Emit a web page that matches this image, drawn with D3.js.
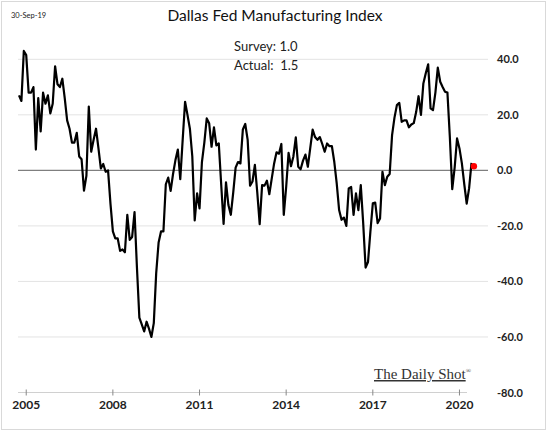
<!DOCTYPE html>
<html><head><meta charset="utf-8">
<script src="https://cdn.jsdelivr.net/npm/d3@7"></script>
<style>body{margin:0;background:#fff} text{white-space:pre}</style></head>
<body><svg id="c" width="547" height="432"></svg>
<script>
const values=[27,25,43,41.5,28,28,30,7.5,26,14,28,24,27,20.5,24,37.5,31,30,33,26,
18,15,10,10,13.5,5,4,-7.3,-2,23,6.7,11,15,8,0.7,2.3,-0.5,0,-12,-22,
-24.5,-24.5,-29,-28.5,-29.5,-16,-25,-24,-15,-35,-53,-55.5,-58,-54.5,-57,-60,-55,-37,-26,-22,-22,-5,
-2.6,-7.4,-1.3,3.7,7.5,-3.2,11,24.7,20,15,5,-18,-8.3,-13.7,3,10,18.7,17,8.5,15.5,9,9.7,
-5,-19.3,-4.3,-12.5,-16,-8,1,3,2.5,14.7,16.7,11,-5.5,-4,2,-8,-19.4,-5.3,-5.5,-3.7,-8.6,-3,2.5,
6.5,6,9.5,-16,-6,6.3,1.5,5,11.9,1.3,0.4,3.5,5.7,1.3,8,14.7,12,11,12,9.5,6.7,
9.7,8.7,8.7,3,-4.7,-14.3,-17.8,-17,-20,-6.5,-6,-16,-8.3,-14.3,-5.3,-19,-35,-33,-22,-11.9,-11.6,
-19,-17.3,-0.5,-5.3,-2.3,-1.3,12.7,19,23.5,24.3,17.5,18,18,15.5,16.5,17,21,26.7,20,31.3,35,
38.2,22.3,21.7,28,37,31.9,30,28.3,28,12,-6.8,1,11.5,7.9,2.5,-5,-12,-6.5,2.7];
const actual=1.5;
const yTicks=[40,20,0,-20,-40,-60,-80];
const xTickIdx=[3,39,75,111,147,183];
const xTickLabels=["2005","2008","2011","2014","2017","2020"];

const svg=d3.select("#c");
const x=d3.scaleLinear().domain([0,values.length-1]).range([19,471.5]);
const y=d3.scaleLinear().domain([-80,40]).range([392.5,59.3]);
const font="Lato, 'Open Sans', sans-serif";

svg.append("rect").attr("x",1.5).attr("y",1.5).attr("width",544).attr("height",428)
 .attr("fill","#fff").attr("stroke","#d9d9d9");

svg.selectAll(".g").data(yTicks.filter(d=>d!==0&&d!==-80)).join("line")
 .attr("x1",18).attr("x2",488).attr("y1",d=>y(d)).attr("y2",d=>y(d))
 .attr("stroke","#e3e3e3").attr("stroke-width",1);
svg.append("line").attr("x1",18).attr("x2",488).attr("y1",y(0)).attr("y2",y(0))
 .attr("stroke","#7f7f7f").attr("stroke-width",1.2);
svg.append("line").attr("x1",18).attr("x2",467).attr("y1",y(-80)).attr("y2",y(-80))
 .attr("stroke","#d0d0d0");

svg.selectAll(".yl").data(yTicks).join("text")
 .attr("x",497).attr("y",d=>y(d)+4).text(d=>d.toFixed(1))
 .attr("font-family",font).attr("font-size",11).attr("font-weight","bold").attr("fill","#222");

svg.selectAll(".xt").data(xTickIdx).join("line")
 .attr("x1",d=>x(d)).attr("x2",d=>x(d)).attr("y1",y(-80)-3).attr("y2",y(-80)+3).attr("stroke","#888");
svg.selectAll(".xl").data(xTickIdx).join("text")
 .attr("x",d=>x(d)).attr("y",409).attr("text-anchor","middle").text((d,i)=>xTickLabels[i])
 .attr("font-family",font).attr("font-size",12).attr("font-weight","bold").attr("fill","#222");

svg.append("path").datum(values)
 .attr("d",d3.line().x((d,i)=>x(i)).y(d=>y(d)))
 .attr("fill","none").attr("stroke","#000").attr("stroke-width",2.2).attr("stroke-linejoin","round");
svg.append("circle").attr("cx",x(values.length)).attr("cy",y(actual)).attr("r",3.2).attr("fill","#ff0000");

svg.append("text").attr("x",275).attr("y",21).attr("text-anchor","middle").text("Dallas Fed Manufacturing Index")
 .attr("font-family",font).attr("font-size",15.5).attr("fill","#111");
svg.append("text").attr("x",11).attr("y",18).text("30-Sep-19").attr("font-family",font).attr("font-size",7.5).attr("fill","#222");
svg.append("text").attr("x",234).attr("y",51).text("Survey: 1.0").attr("font-family",font).attr("font-size",13).attr("fill","#222");
svg.append("text").attr("x",234).attr("y",70).text("Actual:  1.5").attr("font-family",font).attr("font-size",13).attr("fill","#222");

const logo=svg.append("text").attr("x",374).attr("y",379).attr("font-family","'Liberation Serif','DejaVu Serif',serif")
 .attr("font-size",15).attr("fill","#333");
logo.append("tspan").text("The Daily Shot").attr("text-decoration","underline");
logo.append("tspan").text("®").attr("font-size",7).attr("dy",-6);
</script></body></html>
